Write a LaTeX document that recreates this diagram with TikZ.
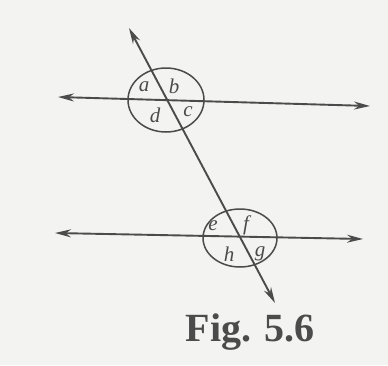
\documentclass[tikz,border=0pt]{standalone}
\usepackage{fontspec}
\setmainfont{Liberation Serif}
\usetikzlibrary{arrows.meta}
\definecolor{inchiostro}{RGB}{75,75,75}
\definecolor{carta}{RGB}{243,243,241}
\begin{document}
\begin{tikzpicture}[x=1pt,y=-1pt,
    retta/.style={{Stealth[length=16pt,width=8pt]}-{Stealth[length=16pt,width=8pt]}, line width=1.9pt, draw=inchiostro},
    giro/.style={draw=inchiostro, line width=1.5pt},
    angolo/.style={inner sep=0pt, text=inchiostro, font=\fontsize{21}{21}\selectfont\itshape}]
        \fill[carta] (0,0) rectangle (388,365);
        \useasboundingbox (0,0) rectangle (388,365);

        %%%%%%%%%% Punti %%%%%%%%%%
        \coordinate (T1) at (129,28);
        \coordinate (T2) at (275,303);
        \coordinate (S1) at (58,97);
        \coordinate (D1) at (370,106);
        \coordinate (S2) at (55,233);
        \coordinate (D2) at (363,239);
        \coordinate (P) at (166,100);
        \coordinate (Q) at (240,238);

        %%%%%%%%%% Cerchi %%%%%%%%%%
        \draw[giro] (P) ellipse [x radius=38, y radius=32];
        \draw[giro] (Q) ellipse [x radius=37, y radius=29];

        %%%%%%%%%% Rette %%%%%%%%%%
        \draw[retta] (S1) -- (D1);
        \draw[retta] (S2) -- (D2);
        \draw[retta] (T1) -- (T2);

        %%%%%%%%%% Angoli %%%%%%%%%%
        \node[angolo] (a) at (144,87) {a};
        \node[angolo] (b) at (174,86) {b};
        \node[angolo] (d) at (155,115) {d};
        \node[angolo] (c) at (188,112) {c};
        \node[angolo] (e) at (213,226) {e};
        \node[angolo] (f) at (246,225) {f};
        \node[angolo] (h) at (229,254) {h};
        \node[angolo] (g) at (260,254) {g};

        %%%%%%%%%% Didascalia %%%%%%%%%%
        \node[text=inchiostro, font=\fontsize{40}{40}\selectfont\bfseries] (fig) at (250,332) {Fig. 5.6};
    \end{tikzpicture}
\end{document}
